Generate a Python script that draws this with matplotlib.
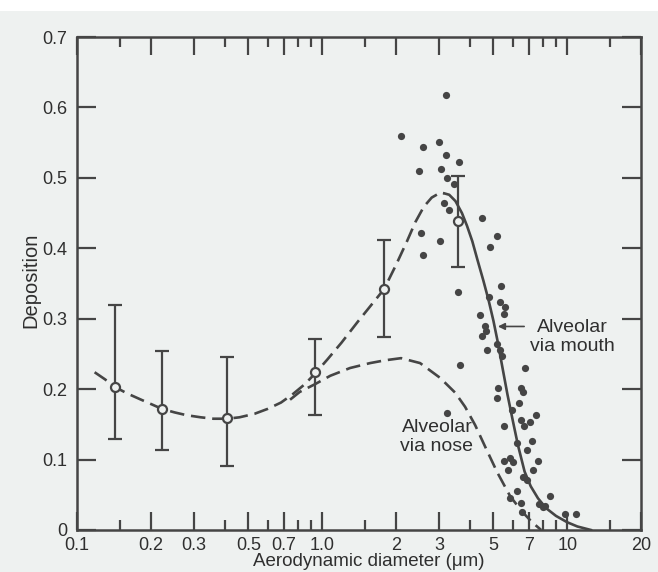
import numpy as np
import matplotlib.pyplot as plt
from matplotlib.ticker import FixedLocator, FixedFormatter, NullFormatter

plt.rcParams['font.family'] = ['Liberation Sans', 'DejaVu Sans']

# Mean deposition with error bars (open circles)
eb_x = [0.143, 0.222, 0.41, 0.935, 1.79, 3.59]
eb_y = [0.203, 0.172, 0.159, 0.224, 0.342, 0.439]
eb_hi = [0.319, 0.254, 0.245, 0.271, 0.412, 0.503]
eb_lo = [0.129, 0.114, 0.091, 0.163, 0.274, 0.374]

# Individual measurements (filled dots)
pts_x = [3.20, 2.10, 2.57, 3.01, 3.21, 3.63, 2.49, 3.05, 3.22, 3.44, 3.13, 3.30,
         4.48, 2.53, 3.03, 2.58, 5.19, 4.85, 3.57, 5.38, 4.78, 5.30, 5.60, 5.50,
         4.41, 4.60, 4.65, 4.50, 4.70, 5.19, 5.30, 5.40, 3.66, 6.74, 5.24, 6.45,
         6.60, 5.16, 6.33, 5.94, 6.45, 6.65, 7.07, 7.48, 5.50, 6.23, 7.17, 6.84,
         5.50, 5.83, 6.00, 5.76, 7.62, 7.28, 6.60, 6.84, 6.26, 5.83, 6.45, 6.52,
         8.47, 7.67, 7.93, 8.10, 9.82, 10.9, 3.24]
pts_y = [0.618, 0.559, 0.544, 0.551, 0.532, 0.523, 0.510, 0.513, 0.500, 0.491, 0.464, 0.455,
         0.443, 0.422, 0.411, 0.390, 0.417, 0.402, 0.338, 0.347, 0.331, 0.324, 0.316, 0.307,
         0.305, 0.290, 0.283, 0.275, 0.256, 0.264, 0.256, 0.247, 0.234, 0.230, 0.202, 0.201,
         0.196, 0.187, 0.181, 0.171, 0.156, 0.148, 0.154, 0.163, 0.148, 0.124, 0.126, 0.113,
         0.098, 0.102, 0.097, 0.085, 0.098, 0.085, 0.075, 0.071, 0.056, 0.046, 0.039, 0.026,
         0.048, 0.037, 0.032, 0.034, 0.023, 0.023, 0.166]

# Mouth curve: dashed part (small particles) and solid part (large particles)
mouth_dash_x = [0.118, 0.13, 0.143, 0.16, 0.18, 0.2, 0.222, 0.25, 0.28, 0.32, 0.36, 0.41,
                0.46, 0.53, 0.6, 0.68, 0.76, 0.85, 0.935, 1.05, 1.2, 1.4, 1.6, 1.79, 2.0,
                2.22, 2.4, 2.6, 2.8, 3.0, 3.15]
mouth_dash_y = [0.224, 0.214, 0.203, 0.194, 0.186, 0.179, 0.172, 0.167, 0.163, 0.160, 0.158, 0.158,
                0.160, 0.165, 0.172, 0.181, 0.193, 0.207, 0.222, 0.242, 0.266, 0.296, 0.321, 0.342, 0.376,
                0.410, 0.437, 0.459, 0.472, 0.478, 0.478]
mouth_solid_x = [3.15, 3.3, 3.5, 3.72, 3.9, 4.1, 4.3, 4.55, 4.78, 5.0, 5.2, 5.42, 5.7, 6.0,
                 6.3, 6.7, 7.1, 7.6, 8.2, 9.0, 10.0, 11.0, 12.5]
mouth_solid_y = [0.478, 0.476, 0.467, 0.450, 0.432, 0.410, 0.384, 0.354, 0.326, 0.297, 0.268, 0.234,
                 0.193, 0.155, 0.120, 0.083, 0.062, 0.045, 0.031, 0.020, 0.011, 0.005, 0.0]

# Nose curve (dashed), branches off the mouth curve near 0.75 um
nose_x = [0.74, 0.81, 0.935, 1.08, 1.3, 1.57, 1.81, 2.1, 2.51, 3.03, 3.49, 3.83,
          4.21, 4.63, 5.18, 5.85, 6.55, 7.19, 7.83]
nose_y = [0.185, 0.196, 0.207, 0.219, 0.230, 0.237, 0.241, 0.244, 0.237, 0.216, 0.195, 0.175,
          0.149, 0.118, 0.082, 0.048, 0.026, 0.011, 0.0]

x_major = [0.1, 0.2, 0.3, 0.5, 0.7, 1.0, 2, 3, 5, 7, 10, 20]
x_labels = ['0.1', '0.2', '0.3', '0.5', '0.7', '1.0', '2', '3', '5', '7', '10', '20']
x_minor = [0.15, 0.4, 0.6, 0.8, 0.9, 1.5, 4, 6, 8, 9, 15]
y_ticks = [0, 0.1, 0.2, 0.3, 0.4, 0.5, 0.6, 0.7]
y_labels = ['0', '0.1', '0.2', '0.3', '0.4', '0.5', '0.6', '0.7']

bg = '#eef1f0'
ink = '#454545'
txt = '#2f2f2f'

fig = plt.figure(figsize=(6.58, 5.72), dpi=100, facecolor=bg)
# white page edge along the top of the scan
fig.add_artist(plt.Rectangle((0, 1 - 11 / 572), 1, 11 / 572, transform=fig.transFigure,
                             facecolor='white', edgecolor='none'))
ax = fig.add_axes([77 / 658, 42 / 572, 564 / 658, 493 / 572])
ax.set_facecolor(bg)

# curves
ax.plot(mouth_dash_x, mouth_dash_y, color=ink, lw=1.9, dashes=(5.5, 2.6), zorder=2)
ax.plot(mouth_solid_x, mouth_solid_y, color=ink, lw=1.9, zorder=2)
ax.plot(nose_x, nose_y, color=ink, lw=1.9, dashes=(5.5, 2.6), zorder=2)

# scatter
ax.plot(pts_x, pts_y, 'o', color=ink, ms=5.2, mew=0, zorder=3)

# error bars
lower = np.array(eb_y) - np.array(eb_lo)
upper = np.array(eb_hi) - np.array(eb_y)
ax.errorbar(eb_x, eb_y, yerr=[lower, upper], fmt='o', mfc=bg, mec=ink, ms=6.5, mew=1.6,
            ecolor=ink, elinewidth=1.6, capsize=5, capthick=1.6, zorder=4)

# labels on curves
ax.annotate('', xy=(5.08, 0.289), xytext=(6.85, 0.289),
            arrowprops=dict(arrowstyle='-|>', color=ink, lw=1.2, mutation_scale=10))
ax.text(10.5, 0.274, 'Alveolar\nvia mouth', ha='center', va='center', fontsize=14,
        color=txt, linespacing=1.15)
ax.text(2.94, 0.132, 'Alveolar\nvia nose', ha='center', va='center', fontsize=14,
        color=txt, linespacing=1.15)

ax.set_xscale('log')
ax.set_xlim(0.1, 20)
ax.set_ylim(0, 0.7)
ax.xaxis.set_major_locator(FixedLocator(x_major))
ax.xaxis.set_major_formatter(FixedFormatter(x_labels))
ax.xaxis.set_minor_locator(FixedLocator(x_minor))
ax.xaxis.set_minor_formatter(NullFormatter())
ax.set_yticks(y_ticks)
ax.set_yticklabels(y_labels)

ax.tick_params(which='both', direction='in', top=True, right=True, color=ink, width=1.6,
               labelsize=13, labelcolor=txt)
ax.tick_params(which='major', length=13)
ax.tick_params(which='minor', length=7)
ax.tick_params(axis='x', pad=5)
ax.tick_params(axis='y', pad=7, length=14)
for s in ax.spines.values():
    s.set_color(ink)
    s.set_linewidth(1.8)

fig.text(369 / 658, 1 - 562 / 572, 'Aerodynamic diameter (\u03bcm)', ha='center', va='center',
         fontsize=13.5, color=txt)
fig.text(31 / 658, 1 - 280 / 572, 'Deposition', ha='center', va='center', rotation=90,
         fontsize=14.5, color=txt)

fig.savefig('out.png', dpi=100, facecolor=bg)
